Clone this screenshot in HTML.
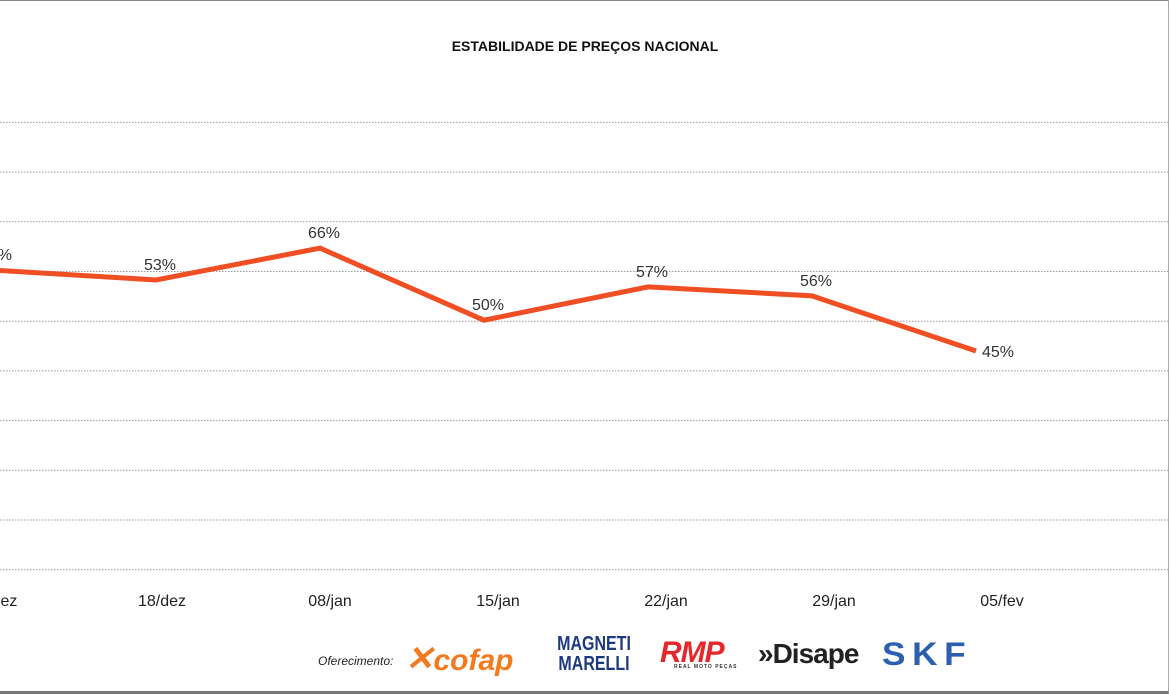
<!DOCTYPE html>
<html><head><meta charset="utf-8"><style>
body{margin:0;width:1170px;height:694px;overflow:hidden;background:#fff;font-family:"Liberation Sans",sans-serif;position:relative}
.frame{position:absolute;left:0;top:0;width:1168px;height:690px;border-top:1px solid #888;border-right:1px solid #aaa;border-bottom:3px solid #777}
.t{position:absolute;white-space:nowrap}
</style></head><body>
<div class="frame"></div>
<div class="t" style="left:0;width:1170px;text-align:center;top:38px;font-size:14px;font-weight:bold;color:#111">ESTABILIDADE DE PREÇOS NACIONAL</div>
<svg id="chart" width="1170" height="620" style="position:absolute;left:0;top:0"></svg>
<div class="t" style="left:318px;top:654px;font-size:12px;font-style:italic;color:#222">Oferecimento:</div>
<div class="t" style="left:405px;top:639px;font-size:30px;font-weight:bold;font-style:italic;color:#f47a20"><span style="font-size:34px">✕</span>cofap</div>
<div class="t" style="left:546px;top:634px;width:96px;height:40px;color:#1c3a7e;font-weight:bold;font-size:20px;line-height:20px;text-align:center;transform:scaleX(0.8)">MAGNETI<br>MARELLI</div>
<div class="t" style="left:660px;top:636px;font-size:30px;font-weight:bold;font-style:italic;color:#e6262b;letter-spacing:-1px">RMP<div style="font-size:5px;color:#333;font-style:normal;letter-spacing:1px;margin-top:-6px;margin-left:14px">REAL MOTO PEÇAS</div></div>
<div class="t" style="left:758px;top:638px;font-size:28px;font-weight:bold;color:#222;letter-spacing:-1px">»Disape</div>
<div class="t" style="left:882px;top:636px;font-size:32px;font-weight:900;color:#2b5fb0;letter-spacing:6px;transform:scaleX(1.1);transform-origin:left">SKF</div>
<script>
const categories=["11/dez","18/dez","08/jan","15/jan","22/jan","29/jan","05/fev"];
const plotValues=[60.3,58.3,64.7,50.2,56.9,55.1,44.0];
const valueLabels=["60%","53%","66%","50%","57%","56%","45%"];
const gridTicks=[0,10,20,30,40,50,60,70,80,90];
const svg=document.getElementById('chart');
const NS="http://www.w3.org/2000/svg";
const y=v=>569.7-v*4.97;
const x=i=>-8+164*i;
const xt=i=>-6+168*i;
function mk(tag,attrs){const e=document.createElementNS(NS,tag);for(const k in attrs)e.setAttribute(k,attrs[k]);svg.appendChild(e);return e;}
gridTicks.forEach(v=>{
  const l=mk('line',{x1:0,x2:1170,y1:y(v),y2:y(v),stroke:'#999','stroke-width':1,'stroke-dasharray':'1.5 1.5'});
  
  
});
const pts=plotValues.map((v,i)=>x(i)+','+y(v)).join(' ');
const pl=mk('polyline',{points:pts,fill:'none',stroke:'#f04e23','stroke-width':5,'stroke-linejoin':'miter'});


plotValues.forEach((v,i)=>{
  const last=i===plotValues.length-1;
  const t=mk('text',{x:last?x(i)+6:x(i)+4,y:last?y(v)+6:y(v)-10,'text-anchor':last?'start':'middle','font-size':16,fill:'#333','font-family':'Liberation Sans, sans-serif'});
  t.textContent=valueLabels[i];
  
  
});
categories.forEach((c,i)=>{
  const t=mk('text',{x:xt(i),y:606,'text-anchor':'middle','font-size':16,fill:'#222','font-family':'Liberation Sans, sans-serif'});
  t.textContent=c;
  
  
});
</script>
</body></html>
